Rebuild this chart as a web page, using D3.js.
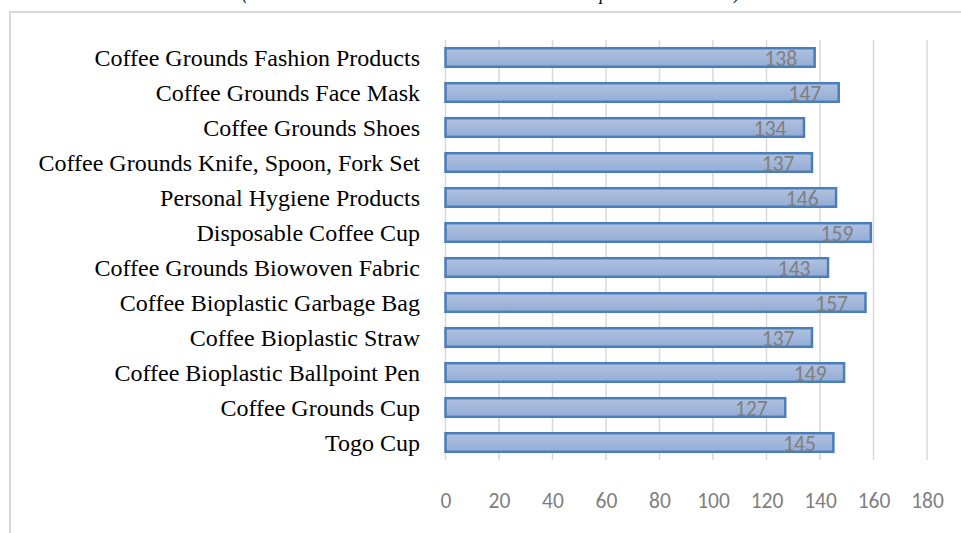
<!DOCTYPE html>
<html>
<head>
<meta charset="utf-8">
<script src="https://cdn.jsdelivr.net/npm/d3@7"></script>
<style>
  html, body { margin: 0; padding: 0; background: #fff; }
  svg { display: block; }
</style>
</head>
<body>
<svg id="chart" width="961" height="533"></svg>
<script>
// Products, listed top to bottom as drawn
const categories = [
  "Coffee Grounds Fashion Products",
  "Coffee Grounds Face Mask",
  "Coffee Grounds Shoes",
  "Coffee Grounds Knife, Spoon, Fork Set",
  "Personal Hygiene Products",
  "Disposable Coffee Cup",
  "Coffee Grounds Biowoven Fabric",
  "Coffee Bioplastic Garbage Bag",
  "Coffee Bioplastic Straw",
  "Coffee Bioplastic Ballpoint Pen",
  "Coffee Grounds Cup",
  "Togo Cup"
];
const values = [138, 147, 134, 137, 146, 159, 143, 157, 137, 149, 127, 145];
const tickValues = [0, 20, 40, 60, 80, 100, 120, 140, 160, 180];
const titleText = "(Total Interest Score Calculated Based on All Respondents' Answers)";

const svg = d3.select("#chart");

// gradient fill for the bars
const defs = svg.append("defs");
const grad = defs.append("linearGradient")
  .attr("id", "barFill").attr("x1", 0).attr("y1", 0).attr("x2", 0).attr("y2", 1);
grad.append("stop").attr("offset", "0%").attr("stop-color", "#b1c2e0");
grad.append("stop").attr("offset", "100%").attr("stop-color", "#94acd5");

// chart area frame (top and left edges visible)
svg.append("path")
  .attr("d", "M10,533 V12 H961")
  .attr("fill", "none")
  .attr("stroke", "#d9d9d9")
  .attr("stroke-width", 2);

// title, mostly above the visible area
svg.append("text")
  .attr("x", 242).attr("y", -1.5)
  .attr("font-family", "'Liberation Serif', 'Times New Roman', serif")
  .attr("font-style", "italic")
  .attr("font-size", 22)
  .attr("textLength", 498)
  .attr("lengthAdjust", "spacingAndGlyphs")
  .attr("fill", "#000")
  .text(titleText);

const x = d3.scaleLinear().domain([0, 180]).range([445.5, 927]);
const y = d3.scaleBand().domain(categories).range([40, 460]).paddingInner(0.47).paddingOuter(0.235);

// vertical gridlines
svg.append("g")
  .selectAll("line")
  .data(tickValues)
  .join("line")
  .attr("x1", d => x(d)).attr("x2", d => x(d))
  .attr("y1", 40).attr("y2", 460)
  .attr("stroke", "#d9d9d9")
  .attr("stroke-width", 1.5);

// x axis tick labels
const xAxis = d3.axisBottom(x).tickValues(tickValues).tickSize(0).tickPadding(0);
const gx = svg.append("g").attr("transform", "translate(0,500)").call(xAxis);
gx.select(".domain").remove();
gx.selectAll("text")
  .attr("dy", "0.35em")
  .attr("font-family", "Carlito, 'Open Sans', sans-serif")
  .attr("font-size", 21.5)
  .attr("fill", "#7f7f7f");

// category labels
const yAxis = d3.axisLeft(y).tickSize(0).tickPadding(0);
const gy = svg.append("g").attr("transform", "translate(420,0)").call(yAxis);
gy.select(".domain").remove();
gy.selectAll("text")
  .attr("dy", "0.34em")
  .attr("font-family", "'Liberation Serif', 'Times New Roman', serif")
  .attr("font-size", 24)
  .attr("fill", "#000");

// bars
svg.append("g")
  .selectAll("rect")
  .data(values)
  .join("rect")
  .attr("x", x(0))
  .attr("y", (d, i) => y(categories[i]))
  .attr("width", d => x(d) - x(0))
  .attr("height", y.bandwidth())
  .attr("fill", "url(#barFill)")
  .attr("stroke", "#4a7ebb")
  .attr("stroke-width", 2.5);

// value labels inside the bar ends
svg.append("g")
  .selectAll("text")
  .data(values)
  .join("text")
  .attr("x", d => x(d) - 17.5)
  .attr("y", (d, i) => y(categories[i]) + y.bandwidth() / 2 + 1)
  .attr("dy", "0.36em")
  .attr("text-anchor", "end")
  .attr("font-family", "Carlito, 'Open Sans', sans-serif")
  .attr("font-size", 21.5)
  .attr("fill", "#7f7f7f")
  .text(d => d);
</script>
</body>
</html>
